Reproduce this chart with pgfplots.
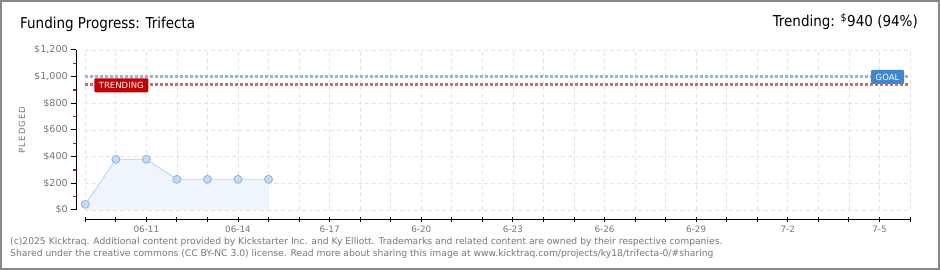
\documentclass[border=0pt]{standalone}
\usepackage{pgfplots}
\pgfplotsset{compat=1.18}
\usepackage{fontspec}
\setmainfont{DejaVu Sans}
\newfontfamily\titlefont{DejaVu Sans Condensed}
\definecolor{framegray}{HTML}{888888}
\definecolor{textgray}{HTML}{777777}
\definecolor{gridgray}{HTML}{E4E4E4}
\definecolor{areafill}{HTML}{EEF5FD}
\definecolor{linefill}{HTML}{B8D2F0}
\definecolor{markfill}{HTML}{C4DBF5}
\definecolor{markdraw}{HTML}{8FB3DE}
\definecolor{goalblue}{HTML}{92B6DF}
\definecolor{trendred}{HTML}{D26A6A}
\definecolor{trendbox}{HTML}{C40000}
\definecolor{goalbox}{HTML}{3E86D4}

\begin{document}
\begin{tikzpicture}[x=1pt,y=1pt]
\useasboundingbox (0,0) rectangle (940,270);
\fill[white] (0,0) rectangle (940,270);
\draw[framegray, line width=2pt] (1,1) rectangle (939,269);

\begin{axis}[
  at={(85.3pt,60pt)}, anchor=south west,
  scale only axis, width=824.7pt, height=160pt,
  xmin=0, xmax=27, ymin=0, ymax=1200,
  axis x line=bottom, axis y line=left,
  axis line style={-, black, line width=1pt},
  axis x line shift=10pt, axis y line shift=9pt,
  xtick={0,...,27},
  xticklabels={,,06-11,,,06-14,,,6-17,,,6-20,,,6-23,,,6-26,,,6-29,,,7-2,,,7-5,},
  ytick={0,200,...,1200},
  yticklabels={\$0,\$200,\$400,\$600,\$800,{\$1,000},{\$1,200}},
  minor ytick={100,300,500,700,900,1100},
  xtick align=center, ytick align=outside,
  major tick length=5pt, minor tick length=3.5pt,
  major tick style={black, line width=1pt},
  minor tick style={red, line width=1.5pt},
  xticklabel style={font=\fontsize{8.8}{10}\selectfont, text=textgray},
  yticklabel style={font=\fontsize{9.6}{10}\selectfont, text=textgray},
  grid=major,
  major grid style={gridgray, line width=0.8pt, dash pattern=on 4pt off 3pt},
  clip=false,
]
\addplot[fill=areafill, draw=none] coordinates {
  (0,42) (1,380) (2,380) (3,230) (4,230) (5,230) (6,230)
} \closedcycle;
\addplot[color=goalblue, line width=2.5pt, dash pattern=on 3pt off 2pt]
  coordinates {(0,1000) (27,1000)};
\addplot[color=trendred, line width=2.5pt, dash pattern=on 3pt off 2pt]
  coordinates {(0,940) (27,940)};
\addplot[color=linefill, line width=0.8pt, mark=*, mark size=4pt,
  mark options={fill=markfill, draw=markdraw, line width=0.8pt}]
  coordinates {
  (0,42) (1,380) (2,380) (3,230) (4,230) (5,230) (6,230)
};
\end{axis}

\node[fill=trendbox, text=white, font=\fontsize{8.5}{8}\selectfont,
  rounded corners=1pt, minimum width=54pt, minimum height=14pt, inner sep=1pt]
  at (121.3,184.7) {TRENDING};
\node[fill=goalbox, text=white, font=\fontsize{8.5}{8}\selectfont,
  rounded corners=1pt, minimum width=33pt, minimum height=14pt, inner sep=1pt]
  at (887.5,193) {GOAL};

\node[rotate=90, text=textgray, font=\fontsize{8.5}{8}\selectfont\addfontfeature{LetterSpace=12}] at (22,140) {PLEDGED};

\node[anchor=base west, inner sep=0, font=\titlefont\fontsize{15}{17}\selectfont]
  at (20,241) {Funding Progress: Trifecta};
\node[anchor=base east, inner sep=0, font=\titlefont\fontsize{15}{17}\selectfont]
  at (918,243) {Trending: \textsuperscript{\$}940 (94\%)};

\node[anchor=base west, inner sep=0, text=textgray, font=\fontsize{9.2}{10}\selectfont]
  at (10,25) {(c)2025 Kicktraq. Additional content provided by Kickstarter Inc. and Ky Elliott. Trademarks and related content are owned by their respective companies.};
\node[anchor=base west, inner sep=0, text=textgray, font=\fontsize{9.2}{10}\selectfont]
  at (10,13) {Shared under the creative commons (CC BY-NC 3.0) license. Read more about sharing this image at www.kicktraq.com/projects/ky18/trifecta-0/\#sharing};
\end{tikzpicture}
\end{document}
